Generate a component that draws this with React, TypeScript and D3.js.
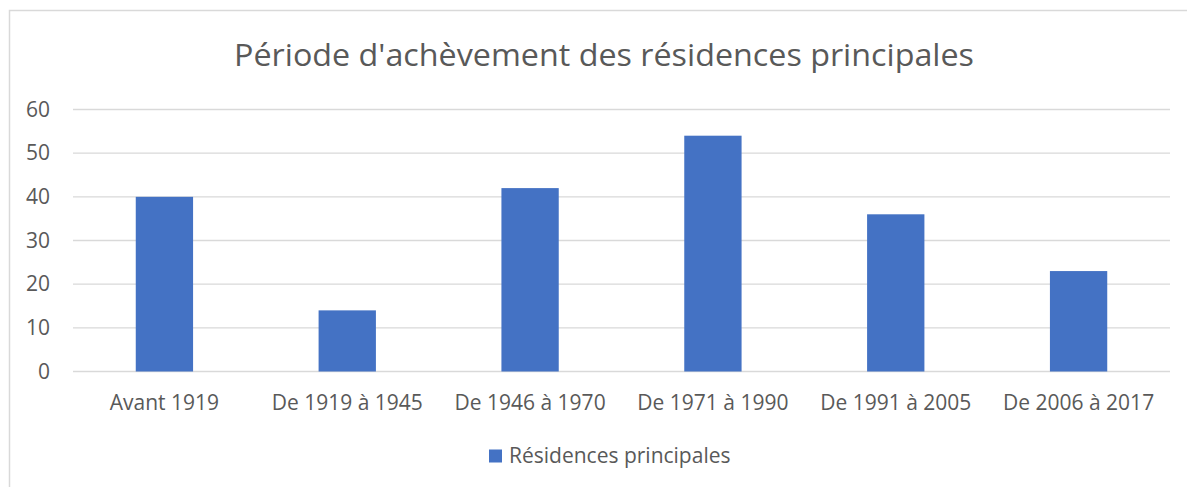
import React from "react";
import * as d3 from "d3";

const categories = ["Avant 1919", "De 1919 à 1945", "De 1946 à 1970", "De 1971 à 1990", "De 1991 à 2005", "De 2006 à 2017"];
const values = [40, 14, 42, 54, 36, 23];
const yTicks = [0, 10, 20, 30, 40, 50, 60];
const title = "Période d'achèvement des résidences principales";
const seriesName = "Résidences principales";

const W = 1187;
const H = 487;
const FONT = "'Open Sans', 'Liberation Sans', sans-serif";
const TEXT = "#595959";
const GRID = "#D9D9D9";
const BAR = "#4472C4";

export default function App() {
  const plotLeft = 73;
  const plotRight = 1170;
  const x = d3.scaleBand<string>().domain(categories).range([plotLeft, plotRight]).paddingInner(0).paddingOuter(0);
  const y = d3.scaleLinear().domain([0, 60]).range([371.5, 109.5]);
  const barW = x.bandwidth() / 3.19;

  return (
    <svg width={W} height={H} style={{ position: "absolute", left: 0, top: 0, background: "#fff" }}>
      <rect x={9.5} y={10.5} width={W + 10} height={H + 10} fill="#fff" stroke={GRID} strokeWidth={1.5} />
      <text x={604} y={66} textAnchor="middle" fontFamily={FONT} fontSize={31} fill={TEXT} textLength={740} lengthAdjust="spacingAndGlyphs">
        {title}
      </text>
      {yTicks.map((t) => (
        <g key={t}>
          <line x1={plotLeft} x2={plotRight} y1={y(t)} y2={y(t)} stroke={GRID} strokeWidth={1.3} />
          <text x={50} y={y(t) + 7} textAnchor="end" fontFamily={FONT} fontSize={21} fill={TEXT}>
            {t}
          </text>
        </g>
      ))}
      {categories.map((c, i) => {
        const cx = (x(c) as number) + x.bandwidth() / 2;
        return (
          <g key={c}>
            <rect x={cx - barW / 2} y={y(values[i])} width={barW} height={y(0) - y(values[i])} fill={BAR} />
            <text x={cx} y={410} textAnchor="middle" fontFamily={FONT} fontSize={21} fill={TEXT}>
              {c}
            </text>
          </g>
        );
      })}
      <rect x={489} y={449.5} width={13} height={13} fill={BAR} />
      <text x={509} y={463} fontFamily={FONT} fontSize={21} fill={TEXT}>
        {seriesName}
      </text>
    </svg>
  );
}
